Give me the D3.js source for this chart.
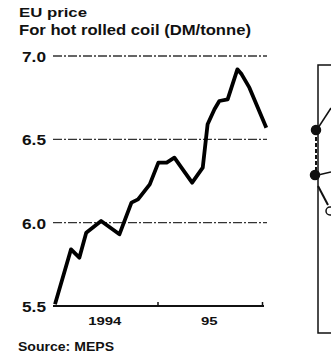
<!DOCTYPE html>
<html>
<head>
<meta charset="utf-8">
<script src="https://cdn.jsdelivr.net/npm/d3@7"></script>
<style>
  html, body { margin: 0; padding: 0; background: #fff; }
  svg { display: block; }
  text { font-family: "Liberation Sans", Arial, Helvetica, sans-serif; font-weight: bold; fill: #111; }
</style>
</head>
<body>
<svg id="chart" width="331" height="361"></svg>
<script>
// ---- Data ----
const title = "EU price";
const subtitle = "For hot rolled coil (DM/tonne)";
const source = "Source: MEPS";
const dates = ["1994-01-08","1994-03-05","1994-04-03","1994-04-27","1994-06-18","1994-08-21",
  "1994-10-02","1994-10-25","1994-12-05","1995-01-04","1995-02-02","1995-03-01","1995-03-30",
  "1995-05-02","1995-06-08","1995-06-25","1995-07-19","1995-08-05","1995-09-03","1995-10-07",
  "1995-10-22","1995-11-18","1996-01-16"];
const prices = [5.51,5.84,5.79,5.94,6.01,5.93,6.12,6.14,6.23,6.36,6.36,6.39,6.32,6.24,6.33,
  6.59,6.68,6.73,6.74,6.92,6.89,6.81,6.57];
const yTicks = [5.5, 6.0, 6.5, 7.0];
const yTickLabels = ["5.5", "6.0", "6.5", "7.0"];
const yearTicks = ["1995-01-01", "1996-01-01"];
const yearLabels = ["1994", "95"];
const yearLabelMid = ["1994-07-01", "1995-07-01"];

// ---- Chart ----
const parse = d3.timeParse("%Y-%m-%d");
const data = dates.map((d, i) => ({ date: parse(d), value: prices[i] }));
const svg = d3.select("#chart");

const x = d3.scaleTime().domain([parse("1994-01-01"), parse("1996-01-01")]).range([53, 262]);
const y = d3.scaleLinear().domain([5.5, 7.0]).range([306, 56]);
const gridRight = 267;

// wide, heavy type as in the scanned original
svg.append("text").attr("x", 19).attr("y", 17).attr("font-size", 13)
  .attr("textLength", 68).attr("lengthAdjust", "spacingAndGlyphs").text(title);
svg.append("text").attr("x", 19).attr("y", 35).attr("font-size", 14)
  .attr("textLength", 232).attr("lengthAdjust", "spacingAndGlyphs").text(subtitle);

// gridlines
svg.append("g").selectAll("line").data(yTicks.filter(v => v > 5.5)).join("line")
  .attr("x1", 53).attr("x2", gridRight)
  .attr("y1", d => y(d)).attr("y2", d => y(d))
  .attr("stroke", "#333").attr("stroke-width", 1.3)
  .attr("stroke-dasharray", "9,2,2,2");

// y labels
svg.append("g").selectAll("text").data(yTicks).join("text")
  .attr("x", 46).attr("y", d => y(d) + 6)
  .attr("text-anchor", "end")
  .attr("font-size", 14)
  .attr("textLength", 24).attr("lengthAdjust", "spacingAndGlyphs")
  .text((d, i) => yTickLabels[i]);

// x axis
const xAxis = d3.axisBottom(x)
  .tickValues(yearTicks.map(parse))
  .tickSize(-4).tickFormat("");
const gx = svg.append("g").attr("transform", "translate(0,306)").call(xAxis);
gx.select(".domain").attr("d", `M${x.range()[0]},0H${x.range()[1] + 2}`)
  .attr("stroke", "#111").attr("stroke-width", 2);
gx.selectAll(".tick line").attr("stroke", "#111").attr("stroke-width", 1.5);

svg.append("g").selectAll("text").data(yearLabels).join("text")
  .attr("x", (d, i) => x(parse(yearLabelMid[i]))).attr("y", 325)
  .attr("text-anchor", "middle").attr("font-size", 11)
  .attr("textLength", d => d.length * 8.3).attr("lengthAdjust", "spacingAndGlyphs")
  .text(d => d);

// line
const line = d3.line().x(d => x(d.date)).y(d => y(d.value));
svg.append("path").datum(data)
  .attr("d", line).attr("fill", "none")
  .attr("stroke", "#000").attr("stroke-width", 3.8)
  .attr("stroke-linejoin", "round").attr("stroke-linecap", "butt");

svg.append("text").attr("x", 18).attr("y", 351).attr("font-size", 13)
  .attr("textLength", 96).attr("lengthAdjust", "spacingAndGlyphs").text(source);

// partial neighbouring graphic at right edge (decoration)
const deco = svg.append("g").attr("stroke", "#111").attr("fill", "none").attr("stroke-width", 1.5);
deco.append("path").attr("d", "M331,65H318V333H331");
deco.append("path").attr("d", "M316,131V174").attr("stroke-dasharray", "4,2").attr("stroke-width", 2);
deco.append("path").attr("d", "M318,128L331,108");
deco.append("path").attr("d", "M318,175L331,172");
deco.append("path").attr("d", "M318,186L328,205").attr("stroke-width", 2);
deco.append("circle").attr("cx", 316).attr("cy", 130).attr("r", 4.5).attr("fill", "#111");
deco.append("circle").attr("cx", 315).attr("cy", 175).attr("r", 4.5).attr("fill", "#111");
deco.append("circle").attr("cx", 330).attr("cy", 211).attr("r", 4).attr("fill", "none");
</script>
</body>
</html>
